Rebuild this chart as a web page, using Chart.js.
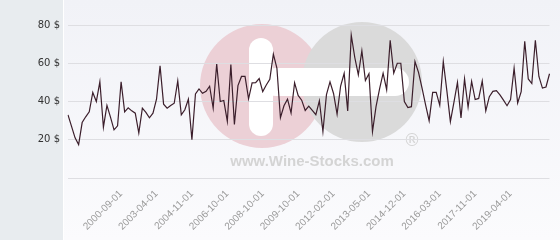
<!DOCTYPE html>
<html>
<head>
<meta charset="utf-8">
<script src="https://cdn.jsdelivr.net/npm/chart.js@4.4.1/dist/chart.umd.min.js"></script>
<style>
  html, body { margin: 0; padding: 0; background: #fff; }
  #wrap { width: 560px; height: 240px; }
</style>
</head>
<body>
<div id="wrap"><canvas id="chart" width="560" height="240"></canvas></div>
<script>
// price per bottle, one entry per sale, oldest first
const prices = [
  33, 27, 21, 17.5, 29, 32, 34.6, 44.7, 40, 50.3,
  26.6, 38, 31.8, 25.2, 27.3, 50.3, 34.6, 36.7, 35.1, 33.9,
  23.5, 36.5, 34.3, 31.5, 33.9, 41.2, 58.6, 38.6, 36.5, 37.9,
  39.1, 50.8, 33, 35.7, 41.2, 20, 44, 46.6, 44.3, 45.3,
  48, 36.6, 59.6, 40, 40.5, 29.6, 59.3, 28, 48.3, 53.1,
  53.1, 41.4, 49.7, 49.8, 52, 45.2, 48.6, 51.6, 64.8, 57.5,
  31.5, 37.8, 41.2, 34, 49.8, 43.2, 40.7, 35.3, 37.6, 35.3,
  33.1, 40.4, 24.3, 43.6, 50.3, 44.2, 33.4, 48.1, 54.7, 35,
  74.7, 63, 54, 66.5, 51, 54.5, 24.3, 37.3, 46.6, 54.8,
  46.2, 72, 54.8, 60, 60, 40, 36.8, 37.3, 60.9, 55.2,
  47, 38.3, 30, 44.8, 44.8, 38, 60.9, 45.7, 29.5, 39.5,
  50, 31.4, 51.8, 37, 50.5, 41, 41.6, 50.7, 35.1, 42.5,
  45.3, 45.7, 43.5, 40.7, 37.8, 41, 57.4, 39.2, 45.1, 71.5,
  51.8, 49.4, 72, 53.1, 47, 47.6, 54.5
];

// dates shown under the axis: every 10th sale, starting at the 16th
const tickLabels = [
  "2000-09-01", "2003-04-01", "2004-11-01", "2006-10-01", "2008-10-01", "2009-10-01",
  "2012-02-01", "2013-05-01", "2014-12-01", "2016-03-01", "2017-11-01", "2019-04-01"
];
const firstTick = 15;
const tickEvery = 10;

const yMax = 80;
const yStep = 20;

const labels = prices.map((_, i) => {
  const k = (i - firstTick) / tickEvery;
  return Number.isInteger(k) && k >= 0 && k < tickLabels.length ? tickLabels[k] : "";
});

// grey side panel, soft background and the watermark logo
const backdrop = {
  id: "backdrop",
  beforeDraw(chart) {
    const { ctx, width, height } = chart;
    ctx.save();
    ctx.fillStyle = "#e8ecef";
    ctx.fillRect(0, 0, 63, height);
    ctx.fillStyle = "#ffffff";
    ctx.fillRect(63, 0, 1, height);
    const g = ctx.createLinearGradient(0, 0, 0, height);
    g.addColorStop(0, "#f1f2f7");
    g.addColorStop(1, "#fbfbfd");
    ctx.fillStyle = g;
    ctx.fillRect(64, 0, width - 64, height);

    ctx.fillStyle = "#ecd0d6";
    ctx.beginPath();
    ctx.arc(262, 86, 62, 0, Math.PI * 2);
    ctx.fill();
    ctx.fillStyle = "#dadada";
    ctx.beginPath();
    ctx.arc(362, 82, 60, 0, Math.PI * 2);
    ctx.fill();

    ctx.fillStyle = "#ffffff";
    ctx.beginPath();
    ctx.roundRect(249, 38, 24, 98, 12);
    ctx.fill();
    ctx.beginPath();
    ctx.roundRect(262, 68, 147, 28, 14);
    ctx.fill();

    ctx.fillStyle = "#d4d4d4";
    ctx.font = "bold 15px 'Liberation Sans', Arial, sans-serif";
    ctx.textAlign = "center";
    ctx.textBaseline = "alphabetic";
    ctx.fillText("www.Wine-Stocks.com", 312, 166);
    ctx.font = "17px 'DejaVu Sans', sans-serif";
    ctx.fillText("\u00AE", 412, 146);
    ctx.restore();
  }
};

new Chart(document.getElementById("chart"), {
  type: "line",
  data: {
    labels: labels,
    datasets: [
      {
        data: prices,
        borderColor: "#3b1e2b",
        borderWidth: 1.2,
        pointRadius: 0,
        tension: 0,
        fill: false,
      },
    ],
  },
  options: {
    responsive: false,
    animation: false,
    devicePixelRatio: 1,
    layout: {
      padding: { top: 25, right: 5, left: 0, bottom: 0 },
    },
    plugins: {
      legend: { display: false },
      tooltip: { enabled: false },
    },
    scales: {
      x: {
        type: "category",
        grid: { display: false },
        border: { display: false },
        afterFit: (scale) => { scale.height = 62; },
        ticks: {
          autoSkip: false,
          minRotation: 45,
          maxRotation: 45,
          padding: 2,
          color: "#9a9a9a",
          font: { family: "'Liberation Sans', Arial, sans-serif", size: 10 },
        },
      },
      y: {
        min: 0,
        max: yMax,
        grid: { color: "#dedee2", drawTicks: false },
        border: { display: false },
        afterFit: (scale) => { scale.width = 68; },
        ticks: {
          stepSize: yStep,
          padding: 8,
          color: "#333333",
          font: { family: "'DejaVu Sans', sans-serif", size: 10 },
          callback: (v) => (v === 0 ? "" : v + " $"),
        },
      },
    },
  },
  plugins: [backdrop],
});
</script>
</body>
</html>
